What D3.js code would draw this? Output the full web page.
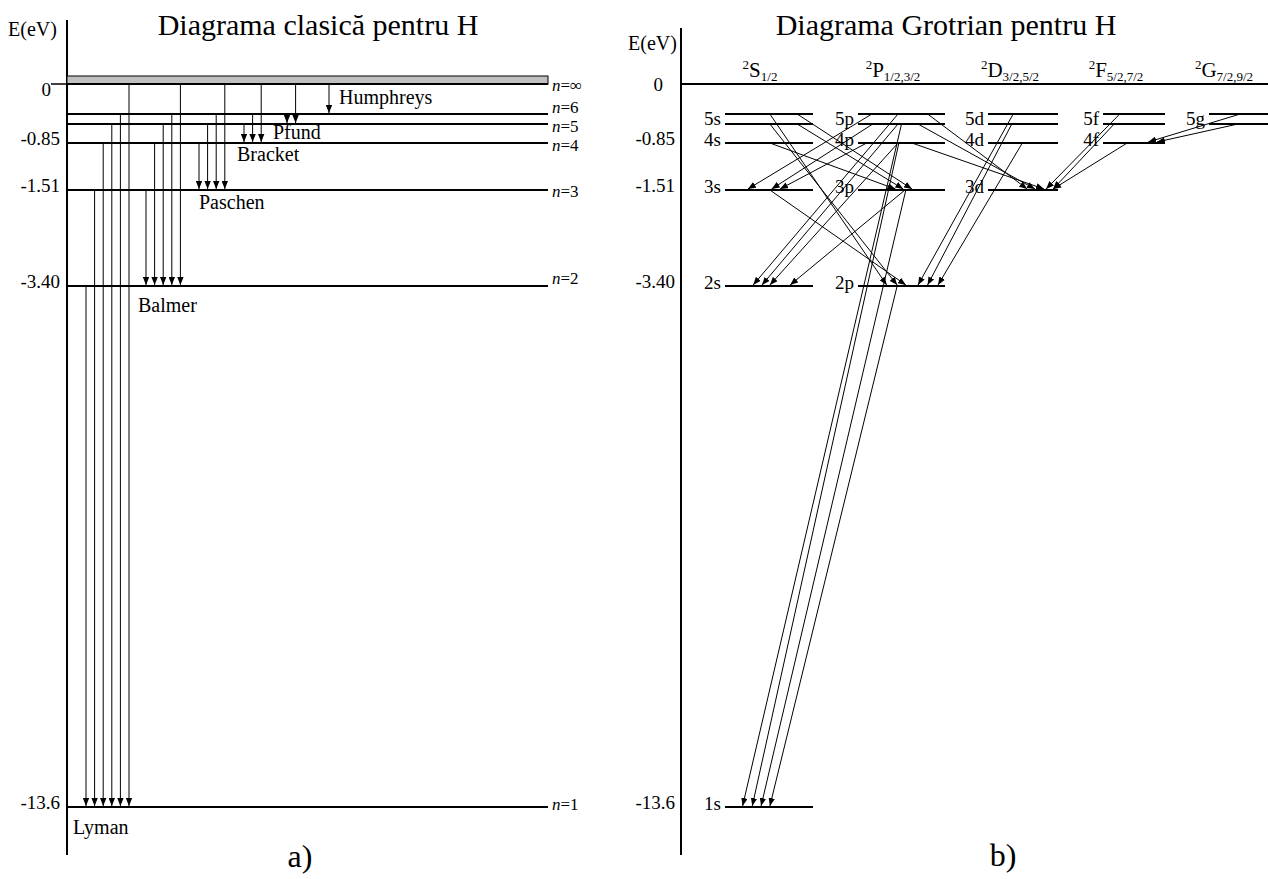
<!DOCTYPE html>
<html>
<head>
<meta charset="utf-8">
<script src="https://cdn.jsdelivr.net/npm/d3@7"></script>
<style>
  body { margin: 0; background: #fff; }
  svg text { font-family: "Liberation Serif", "Times New Roman", serif; fill: #000; }
</style>
</head>
<body>
<script>
// ---- data ----
const levelN = [1, 2, 3, 4, 5, 6, Infinity];
const levelE = [-13.6, -3.40, -1.51, -0.85, -0.544, -0.378, 0];
const tickValues = [0, -0.85, -1.51, -3.40, -13.6];
const tickLabels = ['0', '-0.85', '-1.51', '-3.40', '-13.6'];

const seriesNames = ['Lyman', 'Balmer', 'Paschen', 'Bracket', 'Pfund', 'Humphreys'];
const seriesLower = [1, 2, 3, 4, 5, 6];

const termLetters = ['S', 'P', 'D', 'F', 'G'];
const termL = ['s', 'p', 'd', 'f', 'g'];
const termJ = ['1/2', '1/2,3/2', '3/2,5/2', '5/2,7/2', '7/2,9/2'];
const termMinN = [1, 2, 3, 4, 5];

// [upper n, upper l, lower n, lower l, position along upper line, position along lower line]
const transitions = [
    [6, 's', 2, 'p', 0.51, 0.33], [5, 's', 2, 'p', 0.51, 0.45], [3, 's', 2, 'p', 0.51, 0.55],
    [6, 's', 3, 'p', 0.82, 0.62], [5, 's', 3, 'p', 0.82, 0.52], [4, 's', 3, 'p', 0.51, 0.43],
    [6, 'p', 3, 's', 0.16, 0.26], [5, 'p', 3, 's', 0.17, 0.53], [4, 'p', 3, 's', 0.10, 0.625],
    [6, 'p', 2, 's', 0.46, 0.32], [5, 'p', 2, 's', 0.46, 0.42], [4, 'p', 2, 's', 0.46, 0.51],
    [3, 'p', 2, 's', 0.54, 0.74],
    [5, 'p', 1, 's', 0.50, 0.20], [4, 'p', 1, 's', 0.47, 0.31], [3, 'p', 1, 's', 0.55, 0.41],
    [2, 'p', 1, 's', 0.45, 0.51],
    [6, 'p', 3, 'd', 0.80, 0.56], [5, 'p', 3, 'd', 0.69, 0.67], [4, 'p', 3, 'd', 0.62, 0.80],
    [6, 'd', 2, 'p', 0.36, 0.69], [5, 'd', 2, 'p', 0.34, 0.80], [4, 'd', 2, 'p', 0.49, 0.92],
    [6, 'f', 3, 'd', 0.27, 0.83], [5, 'f', 3, 'd', 0.18, 0.93], [4, 'f', 3, 'd', 0.39, 0.93],
    [6, 'g', 4, 'f', 0.53, 0.73], [5, 'g', 4, 'f', 0.49, 0.87]
];

// ---- layout ----
const svgWidth = 1268;
const svgHeight = 879;
const seriesX0 = [86, 146, 199, 244, 287, 329];
const seriesStep = 8.6;
const seriesLabelPos = [[73, 834], [138, 312], [199, 209], [237, 161], [273, 139], [339, 104]];
const colX0 = [725, 858, 988, 1103, 1209];
const colX1 = [813, 945, 1058, 1165, 1268];
const headerX = [760, 893, 1010, 1116, 1224];

const energy = n => levelE[levelN.indexOf(n)];

const svg = d3.select('body').append('svg')
    .attr('width', svgWidth)
    .attr('height', svgHeight)
    .attr('font-family', '"Liberation Serif", "Times New Roman", serif');

svg.append('defs').append('marker')
    .attr('id', 'head')
    .attr('viewBox', '0 0 10 8')
    .attr('refX', 10)
    .attr('refY', 4)
    .attr('markerWidth', 8)
    .attr('markerHeight', 6.6)
    .attr('markerUnits', 'userSpaceOnUse')
    .attr('orient', 'auto')
    .append('path')
    .attr('d', 'M0,0L10,4L0,8Z')
    .attr('fill', '#000');

// schematic (broken) energy axis, shared by both panels
let y = d3.scaleLinear()
    .domain(levelE)
    .range([807, 286, 190, 143, 124, 114, 84]);

function drawAxis(g, x0, top, padding) {
    g.append('line')
        .attr('x1', x0).attr('x2', x0)
        .attr('y1', top).attr('y2', 855)
        .attr('stroke', '#000').attr('stroke-width', 2);
    let ax = g.append('g')
        .attr('transform', 'translate(' + x0 + ',0)')
        .call(d3.axisLeft(y).tickValues(tickValues)
            .tickFormat((d, i) => tickLabels[i])
            .tickSize(0).tickPadding(padding));
    ax.select('.domain').remove();
    ax.selectAll('text')
        .attr('font-family', '"Liberation Serif", "Times New Roman", serif')
        .attr('font-size', 19)
        .attr('fill', '#000');
    return ax;
}

// ================= a) classical diagram =================
const ga = svg.append('g');
let xa = d3.scaleLinear().domain([0, 1]).range([67, 548]);

ga.append('text')
    .attr('x', 318).attr('y', 35)
    .attr('text-anchor', 'middle')
    .attr('font-size', 30)
    .text('Diagrama clasică pentru H');

ga.append('text')
    .attr('x', 8).attr('y', 36)
    .attr('font-size', 20)
    .text('E(eV)');

let axA = drawAxis(ga, 67, 20, 7);
axA.selectAll('text')
    .attr('dy', d => d === 0 ? '0.6em' : '0.08em')
    .attr('dx', d => d === 0 ? -9 : 0);
ga.append('line')
    .attr('x1', 51).attr('x2', 67)
    .attr('y1', y(0)).attr('y2', y(0))
    .attr('stroke', '#000').attr('stroke-width', 1.5);

// ionisation band
ga.append('rect')
    .attr('x', xa(0)).attr('y', y(0) - 8)
    .attr('width', xa(1) - xa(0)).attr('height', 8)
    .attr('fill', '#c0c0c0')
    .attr('stroke', '#000').attr('stroke-width', 1);

ga.selectAll('.lvl')
    .data(levelN)
    .enter().append('line')
    .attr('class', 'lvl')
    .attr('x1', xa(0)).attr('x2', xa(1))
    .attr('y1', d => y(energy(d))).attr('y2', d => y(energy(d)))
    .attr('stroke', '#000').attr('stroke-width', 2);

const nLabelDy = { 1: -3, 2: -8, 3: 1, 4: 2, 5: 2, 6: -7 };
let nLab = ga.selectAll('.nlab')
    .data(levelN)
    .enter().append('text')
    .attr('class', 'nlab')
    .attr('x', 552)
    .attr('y', d => y(energy(d)) + 6 + (d === Infinity ? 1 : nLabelDy[d]))
    .attr('font-size', 17);
nLab.append('tspan').attr('font-style', 'italic').text('n');
nLab.append('tspan').text(d => '=' + (d === Infinity ? '∞' : d));

seriesLower.forEach((lower, s) => {
    let uppers = levelN.filter(n => n > lower);
    ga.selectAll('.ar' + s)
        .data(uppers)
        .enter().append('line')
        .attr('x1', (d, i) => seriesX0[s] + i * seriesStep)
        .attr('x2', (d, i) => seriesX0[s] + i * seriesStep)
        .attr('y1', d => y(energy(d)))
        .attr('y2', y(energy(lower)) - 1)
        .attr('stroke', '#000').attr('stroke-width', 1)
        .attr('marker-end', 'url(#head)');
    ga.append('text')
        .attr('x', seriesLabelPos[s][0]).attr('y', seriesLabelPos[s][1])
        .attr('font-size', 20)
        .text(seriesNames[s]);
});

ga.append('text')
    .attr('x', 300).attr('y', 867)
    .attr('text-anchor', 'middle')
    .attr('font-size', 32)
    .text('a)');

// ================= b) Grotrian diagram =================
const gb = svg.append('g');
let colScale = termL.map((l, i) => d3.scaleLinear().domain([0, 1]).range([colX0[i], colX1[i]]));
const col = l => colScale[termL.indexOf(l)];

gb.append('text')
    .attr('x', 946).attr('y', 35)
    .attr('text-anchor', 'middle')
    .attr('font-size', 30)
    .text('Diagrama Grotrian pentru H');

gb.append('text')
    .attr('x', 628).attr('y', 50)
    .attr('font-size', 20)
    .text('E(eV)');

let axB = drawAxis(gb, 681, 28, 6);
axB.selectAll('text')
    .attr('dy', d => d === 0 ? '0.32em' : '0.1em')
    .attr('dx', d => d === 0 ? -12 : 0);

gb.append('line')
    .attr('x1', 681).attr('x2', svgWidth)
    .attr('y1', y(0)).attr('y2', y(0))
    .attr('stroke', '#000').attr('stroke-width', 2);

termLetters.forEach((t, i) => {
    let h = gb.append('text')
        .attr('x', headerX[i]).attr('y', 77)
        .attr('text-anchor', 'middle');
    h.append('tspan').attr('font-size', 13).attr('dy', -8).text('2');
    h.append('tspan').attr('font-size', 21).attr('dy', 8).text(t);
    h.append('tspan').attr('font-size', 13).attr('dy', 4).text(termJ[i]);

    let ns = levelN.filter(n => n >= termMinN[i] && n <= 6);
    gb.selectAll('.gl' + i)
        .data(ns)
        .enter().append('line')
        .attr('x1', colScale[i](0)).attr('x2', colScale[i](1))
        .attr('y1', d => y(energy(d))).attr('y2', d => y(energy(d)))
        .attr('stroke', '#000').attr('stroke-width', 2.2);

    gb.selectAll('.gt' + i)
        .data(ns.filter(n => n <= 5))
        .enter().append('text')
        .attr('x', colScale[i](0) - 4)
        .attr('y', d => d === 5 ? (y(energy(5)) + y(energy(6))) / 2 + 6 : y(energy(d)) + 3)
        .attr('text-anchor', 'end')
        .attr('font-size', 19)
        .text(d => d + termL[i]);
});

gb.selectAll('.tr')
    .data(transitions)
    .enter().append('line')
    .attr('class', 'tr')
    .attr('x1', d => col(d[1])(d[4]))
    .attr('y1', d => y(energy(d[0])))
    .attr('x2', d => col(d[3])(d[5]))
    .attr('y2', d => y(energy(d[2])) - 1)
    .attr('stroke', '#000').attr('stroke-width', 1)
    .attr('marker-end', 'url(#head)');

gb.append('text')
    .attr('x', 1003).attr('y', 866)
    .attr('text-anchor', 'middle')
    .attr('font-size', 32)
    .text('b)');
</script>
</body>
</html>
